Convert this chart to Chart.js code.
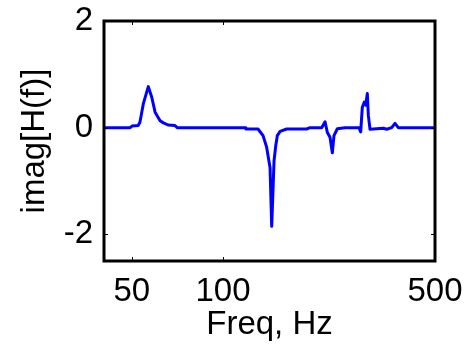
<!DOCTYPE html>
<html>
<head>
<meta charset="utf-8">
<script src="https://cdn.jsdelivr.net/npm/chart.js@4"></script>
<style>
  html, body { margin: 0; padding: 0; background: #fff; }
  #wrap { width: 472px; height: 347px; }
</style>
</head>
<body>
<div id="wrap"><canvas id="c" width="472" height="347"></canvas></div>
<script>
// Frequencies (Hz) and imaginary part of H(f)
const freqHz = [40.5, 49.4, 50.1, 52.5, 53.2, 54.6, 56.7, 58.2, 59.7, 62.0, 63.6, 65.9, 69.4, 70.6,
  118.2, 119.0, 130.4, 135.5, 139.3, 142.9, 144.7, 147.3, 149.2, 151.0, 154.2, 162.2,
  188.8, 193.6, 211.6, 217.0, 220.8, 225.3, 229.3, 232.2, 238.2, 252.5,
  280.8, 284.4, 287.9, 292.4, 295.5, 299.1, 301.4, 305.3,
  337.7, 346.5, 359.9, 369.0, 378.4, 500];
const imagH = [0, 0, 0.03, 0.04, 0.1, 0.45, 0.77, 0.57, 0.29, 0.13, 0.09, 0.05, 0.04, 0,
  0, -0.025, -0.025, -0.15, -0.37, -0.75, -1.85, -0.62, -0.34, -0.15, -0.07, -0.025,
  -0.025, 0.0, 0.0, 0.11, -0.09, -0.18, -0.47, -0.15, -0.02, 0.0,
  0.0, -0.08, 0.38, 0.48, 0.42, 0.64, 0.23, -0.03,
  -0.01, -0.03, 0.0, 0.08, 0.0, 0.0];
const xTickValues = [50, 100, 500];
const yTickValues = [-2, 0, 2];
const xRange = [40.5, 500];
const yRange = [-2.5, 2];

const points = freqHz.map((f, i) => ({ x: f, y: imagH[i] }));
const FONT = "'Liberation Sans', Arial, sans-serif";

const framePlugin = {
  id: 'frame',
  afterDatasetsDraw(chart) {
    const { ctx, chartArea: a, scales } = chart;
    ctx.save();
    ctx.strokeStyle = '#000';
    ctx.lineWidth = 1;
    const tl = 4;
    ctx.beginPath();
    xTickValues.forEach(v => {
      const px = Math.round(scales.x.getPixelForValue(v)) + 0.5;
      ctx.moveTo(px, a.bottom); ctx.lineTo(px, a.bottom - tl);
      ctx.moveTo(px, a.top); ctx.lineTo(px, a.top + tl);
    });
    yTickValues.forEach(v => {
      const py = Math.round(scales.y.getPixelForValue(v)) + 0.5;
      ctx.moveTo(a.left, py); ctx.lineTo(a.left + tl, py);
      ctx.moveTo(a.right, py); ctx.lineTo(a.right - tl, py);
    });
    ctx.stroke();
    ctx.lineWidth = 3;
    ctx.strokeRect(a.left, a.top, a.right - a.left, a.bottom - a.top);
    ctx.restore();
  }
};

new Chart(document.getElementById('c'), {
  type: 'line',
  data: {
    datasets: [{
      data: points,
      borderColor: '#0000ff',
      borderWidth: 3,
      pointRadius: 0,
      tension: 0,
      fill: false,
      borderJoinStyle: 'round',
      borderCapStyle: 'round'
    }]
  },
  options: {
    responsive: false,
    animation: false,
    devicePixelRatio: 1,
    layout: { padding: { top: 21, right: 37, left: 0, bottom: 0 } },
    plugins: { legend: { display: false }, tooltip: { enabled: false } },
    scales: {
      x: {
        type: 'logarithmic',
        min: xRange[0], max: xRange[1],
        grid: { display: false, drawTicks: false },
        border: { display: false },
        afterBuildTicks(s) { s.ticks = xTickValues.map(v => ({ value: v })); },
        afterFit(s) { s.height = 86; s.paddingLeft = 0; s.paddingRight = 0; },
        ticks: {
          color: '#000', padding: 11, maxRotation: 0, autoSkip: false,
          font: { family: FONT, size: 33 },
          callback: v => String(v)
        },
        title: {
          display: true, text: 'Freq, Hz', color: '#000',
          font: { family: FONT, size: 33 },
          padding: { top: 0, bottom: 2 }
        }
      },
      y: {
        min: yRange[0], max: yRange[1],
        grid: { display: false, drawTicks: false },
        border: { display: false },
        afterBuildTicks(s) { s.ticks = yTickValues.map(v => ({ value: v })); },
        afterFit(s) { s.width = 104; s.paddingTop = 0; s.paddingBottom = 0; },
        ticks: {
          color: '#000', padding: 11,
          font: { family: FONT, size: 33 },
          callback: v => String(v)
        },
        title: {
          display: true, text: 'imag[H(f)]', color: '#000',
          font: { family: FONT, size: 33 },
          padding: { top: 15, bottom: 0 }
        }
      }
    }
  },
  plugins: [framePlugin]
});
</script>
</body>
</html>
